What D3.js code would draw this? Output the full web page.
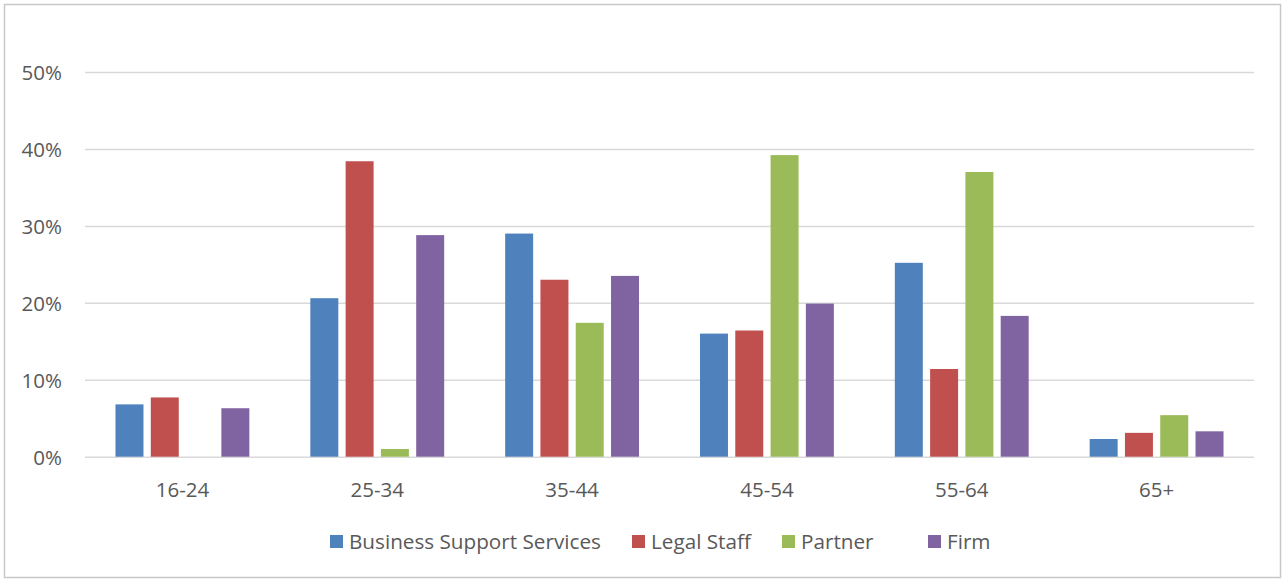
<!DOCTYPE html>
<html lang="en">
  <head>
    <meta charset="UTF-8" />
    <title>Age profile by staff group</title>
    <style>
      body {
        margin: 0;
        background: #fff;
        font-family: "Open Sans", sans-serif;
      }
      .tick text {
        fill: #595959;
        font-family: "Open Sans", sans-serif;
        font-size: 20.5px;
      }
      .grid line {
        stroke: #d9d9d9;
        stroke-width: 1.5px;
      }
      .legend text {
        fill: #595959;
        font-size: 20.7px;
      }
    </style>
  </head>
  <body>
    <div id="chart"></div>
    <script src="https://d3js.org/d3.v7.min.js"></script>
    <script>
      // age bands on the x axis
      const ageBands = ["16-24", "25-34", "35-44", "45-54", "55-64", "65+"];
      const seriesNames = ["Business Support Services", "Legal Staff", "Partner", "Firm"];
      const seriesColors = ["#4f81bd", "#c0504d", "#9bbb59", "#8064a2"];

      // shares per age band (fractions)
      const businessSupport = [0.068, 0.206, 0.290, 0.160, 0.252, 0.023];
      const legalStaff = [0.077, 0.384, 0.230, 0.164, 0.114, 0.031];
      const partner = [0.0, 0.010, 0.174, 0.392, 0.370, 0.054];
      const firm = [0.063, 0.288, 0.235, 0.199, 0.183, 0.033];

      const yTicks = [0, 0.1, 0.2, 0.3, 0.4, 0.5];

      const seriesValues = [businessSupport, legalStaff, partner, firm];

      const width = 1283;
      const height = 579;
      const margin = { left: 85, right: 29, top: 72, bottom: 122 };

      const svg = d3.select("#chart")
        .append("svg")
        .attr("width", width)
        .attr("height", height);

      // outer frame
      svg.append("rect")
        .attr("x", 4.5)
        .attr("y", 4.5)
        .attr("width", 1276)
        .attr("height", 573)
        .attr("fill", "none")
        .attr("stroke", "#c8c8c8")
        .attr("stroke-width", 1.5);

      const x0 = d3.scaleBand()
        .domain(ageBands)
        .range([margin.left, width - margin.right])
        .padding(0);

      const x1 = d3.scaleBand()
        .domain(seriesNames)
        .range([0, x0.bandwidth()])
        .paddingInner(0.207)
        .paddingOuter(0.864);

      const y = d3.scaleLinear()
        .domain([0, 0.5])
        .range([height - margin.bottom - 0.3, margin.top]);

      // gridlines + y labels
      const yAxis = svg.append("g")
        .attr("class", "grid")
        .attr("transform", `translate(${margin.left},0)`)
        .call(d3.axisLeft(y)
          .tickValues(yTicks)
          .tickSize(-(width - margin.left - margin.right))
          .tickPadding(23)
          .tickFormat(d3.format(".0%")));
      yAxis.select(".domain").remove();
      yAxis.selectAll(".tick text").attr("dy", "0.36em");

      // bars
      const groups = svg.append("g")
        .selectAll("g")
        .data(ageBands)
        .join("g")
        .attr("transform", d => `translate(${x0(d)},0)`);

      groups.selectAll("rect")
        .data((d, i) => seriesNames.map((s, j) => ({ series: s, value: seriesValues[j][i], color: seriesColors[j] })))
        .join("rect")
        .attr("x", d => x1(d.series))
        .attr("width", x1.bandwidth())
        .attr("y", d => y(d.value))
        .attr("height", d => y(0) - y(d.value))
        .attr("fill", d => d.color);

      // x labels
      const xAxis = svg.append("g")
        .attr("transform", `translate(0,${y(0)})`)
        .call(d3.axisBottom(x0).tickSize(0).tickPadding(0));
      xAxis.select(".domain").remove();
      xAxis.selectAll(".tick text").attr("y", 40.5).attr("dy", 0);

      // legend
      const legendX = [330, 632, 782, 928];
      const legend = svg.append("g")
        .attr("class", "legend")
        .selectAll("g")
        .data(seriesNames)
        .join("g")
        .attr("transform", (d, i) => `translate(${legendX[i]},535)`);

      legend.append("rect")
        .attr("width", 13)
        .attr("height", 13)
        .attr("fill", (d, i) => seriesColors[i]);

      legend.append("text")
        .attr("x", 19)
        .attr("y", 14)
        .text(d => d);
    </script>
  </body>
</html>
